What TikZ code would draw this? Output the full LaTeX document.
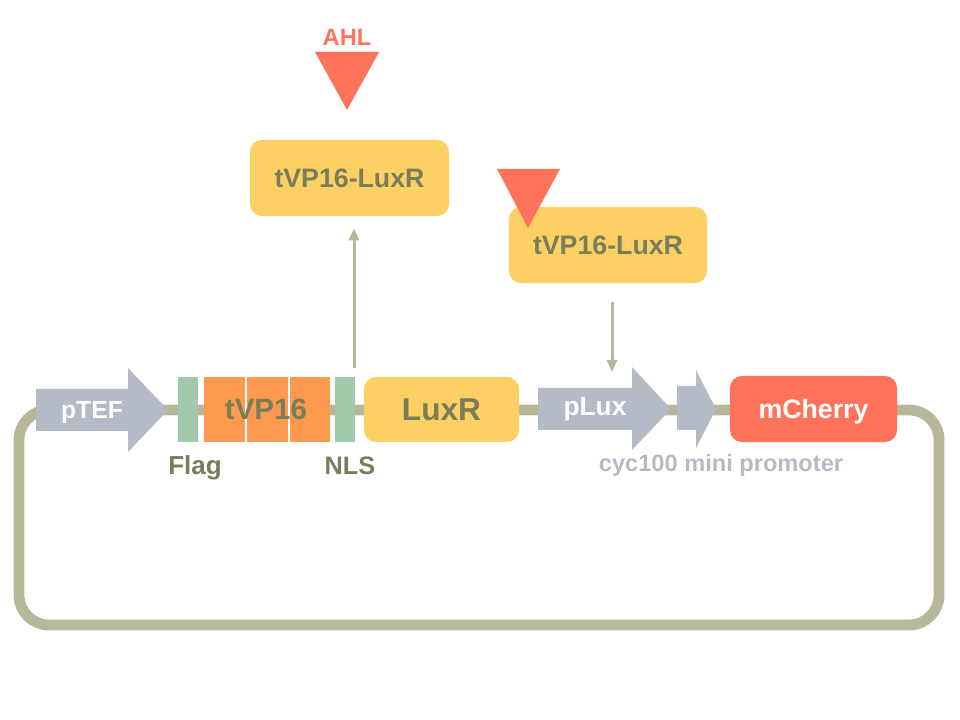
\documentclass[tikz,border=0pt]{standalone}
\usepackage{fontspec}
\setmainfont{Liberation Sans}
\usetikzlibrary{arrows.meta}
\definecolor{backbone}{RGB}{183,184,154}
\definecolor{promoter}{RGB}{180,187,199}
\definecolor{tagbar}{RGB}{163,201,173}
\definecolor{vporange}{RGB}{255,153,77}
\definecolor{luxyellow}{RGB}{252,208,100}
\definecolor{cherryred}{RGB}{255,115,90}
\definecolor{olivetext}{RGB}{122,125,90}

\begin{document}
\begin{tikzpicture}
[x=0.025cm,y=-0.025cm,
 protein/.style={rectangle,rounded corners=0.3cm,fill=luxyellow,draw=none,inner sep=0pt,text depth=0pt,text=olivetext,font=\bfseries\fontsize{19}{22}\selectfont},
 tag/.style={rectangle,fill=tagbar,draw=none,minimum width=0.5cm,minimum height=1.625cm,inner sep=0pt},
 promo/.style={fill=promoter,draw=none},
 signal/.style={draw=backbone,line width=0.075cm,-{Triangle[length=0.3cm,width=0.25cm]}},
 ligand/.style={fill=cherryred,draw=none}]
\useasboundingbox (0,0) rectangle (960,720);
\draw[backbone,line width=0.27cm,rounded corners=0.75cm] (19,410) rectangle (939,625);

\fill[promo] (36,389) -- (128,389) -- (128,368) -- (168,410) -- (128,452) -- (128,431) -- (36,431) -- cycle;
\node[text=white,text depth=0pt,font=\bfseries\fontsize{17.6}{20}\selectfont] (ptef) at (92,410) {pTEF};

\node[tag] (flag) at (188,409.5) {};
\node[rectangle,fill=vporange,minimum width=3.15cm,minimum height=1.625cm,inner sep=0pt] (vp) at (267,409.5) {};
\foreach \x in {246,289} \draw[white,line width=0.04cm] (\x,377) -- (\x,442);
\node[text=olivetext,text depth=0pt,font=\bfseries\fontsize{21}{24}\selectfont] (vplabel) at (266,409) {tVP16};
\node[tag] (nls) at (345,409.5) {};
\node[protein,minimum width=3.875cm,minimum height=1.625cm,font=\bfseries\fontsize{22.5}{26}\selectfont] (luxr) at (441.5,409.5) {LuxR};

\node[text=olivetext,font=\bfseries\fontsize{18.5}{22}\selectfont] (flaglabel) at (195,468) {Flag};
\node[text=olivetext,text depth=0pt,font=\bfseries\fontsize{18}{22}\selectfont] (nlslabel) at (350,466) {NLS};

\fill[promo] (538,388) -- (632,388) -- (632,367) -- (671,409) -- (632,450) -- (632,430) -- (538,430) -- cycle;
\node[text=white,font=\bfseries\fontsize{18.7}{22}\selectfont] (plux) at (595,409) {pLux};
\fill[promo] (677,386) -- (696,386) -- (696,370) -- (716,409) -- (696,448) -- (696,430) -- (677,430) -- cycle;
\node[text=promoter,font=\bfseries\fontsize{16.8}{20}\selectfont] (cyc) at (721,465) {cyc100 mini promoter};

\node[protein,fill=cherryred,text=white,minimum width=4.175cm,minimum height=1.65cm] (cherry) at (813.5,409) {mCherry};

\node[protein,minimum width=4.975cm,minimum height=1.9cm] (box1) at (349.5,178) {tVP16-LuxR};
\node[protein,minimum width=4.95cm,minimum height=1.9cm] (box2) at (608,245) {tVP16-LuxR};

\node[text=cherryred,text depth=0pt,font=\bfseries\fontsize{16.8}{20}\selectfont] (ahl) at (347,37) {AHL};
\fill[ligand] (315,52) -- (379,52) -- (347,110) -- cycle;
\fill[ligand] (497,169) -- (560,169) -- (528,228) -- cycle;

\coordinate (expr) at (354,368);
\coordinate (pluxtop) at (612,372);
\draw[signal,shorten >=0.3cm] (expr) -- (expr |- box1.south);
\draw[signal,shorten <=0.475cm] (box2.south -| pluxtop) -- (pluxtop);
\end{tikzpicture}
\end{document}
